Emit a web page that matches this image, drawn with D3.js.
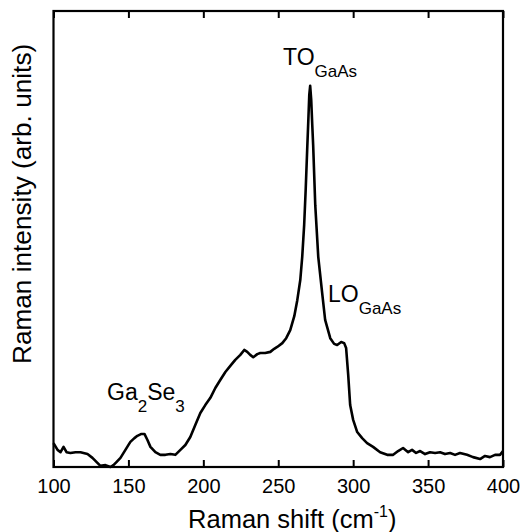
<!DOCTYPE html>
<html>
<head>
<meta charset="utf-8">
<script src="https://cdn.jsdelivr.net/npm/d3@7/dist/d3.min.js"></script>
<style>
html,body{margin:0;padding:0;background:#fff;}
svg{display:block;font-family:"Liberation Sans",Arial,sans-serif;}
</style>
</head>
<body>
<svg id="chart" width="532" height="532"></svg>
<script>
// Raman shift (cm^-1)
const shift = [100,102.7,104.7,106.7,108.7,111.3,114.7,118,122.7,126,129.3,131.3,134.7,138,140,142,144.7,148,151.3,154,156,158.7,160.7,162.7,164.7,168,171.3,174.7,178,181.3,184.7,188,191.3,194.7,198,201.3,204.7,208,211.3,214.7,218,221.3,224.7,227.3,229.3,231.3,233.3,236,238,241.3,244.7,247.3,249.3,252.7,255.3,258,260.7,262.7,264.7,266,267.3,268.3,269.3,270,270.7,271.3,272,272.7,273.3,274.7,276.7,279.3,281.3,284.7,287.3,289.3,292,294,295.3,296.7,298,300,302.7,306,309.3,313.3,318,322.7,326.7,330,333.3,336.7,339.3,342,344.7,348,351.3,354.7,358,361.3,364.7,368,371.3,376,380,384.7,388,391.3,394.7,398,400];
// Raman intensity (arb. units)
const intensity = [6.3,4.5,3.9,5.3,3.9,3.7,3.9,3.9,3.4,2.4,1.1,0.3,0.5,0,0.5,1.3,2.4,4.5,6.6,7.6,8.2,8.7,8.7,7.1,5.3,3.9,3.2,3.2,3.4,3.2,4.5,5.8,7.9,11.1,14.2,16.3,18.2,20.8,22.9,25,26.6,28.2,29.5,30.8,30.3,29.5,28.9,29.7,30,30,30.3,31.1,31.6,32.6,33.9,36,39.7,43.9,49.2,55.3,63.7,72.9,83.4,90.5,97.9,100.3,96.6,90,84.7,68.9,55.3,45.8,38.7,33.9,32.4,32.1,32.9,32.6,31.3,24.2,16.3,12.4,9.2,7.6,6.3,5.3,3.9,3.2,3.2,4.2,5,3.9,4.5,3.7,4.2,3.4,3.9,3.7,3.9,3.4,3.7,3.2,3.7,3.2,2.6,2.1,2.9,2.6,3.2,3.2,4.2];
const xTicks = [100,150,200,250,300,350,400];
const xDomain = [100,400];
const yDomain = [0,120];

const svg = d3.select("#chart");
const L = 53.5, R = 503, T = 11, B = 467;
const x = d3.scaleLinear().domain(xDomain).range([L, R]);
const y = d3.scaleLinear().domain(yDomain).range([B, T]);

// line
const data = shift.map((s,i)=>({s, v: intensity[i]}));
svg.append("path")
  .datum(data)
  .attr("fill","none")
  .attr("stroke","#000")
  .attr("stroke-width",2.6)
  .attr("stroke-linejoin","round")
  .attr("d", d3.line().x(d=>x(d.s)).y(d=>y(d.v)));

// bottom axis
const gb = svg.append("g").attr("transform",`translate(0,${B})`)
  .call(d3.axisBottom(x).tickValues(xTicks).tickSize(-7).tickPadding(12).tickFormat(d3.format("d")));
gb.select(".domain").remove();
gb.selectAll(".tick line").attr("stroke","#000").attr("stroke-width",2);
gb.selectAll(".tick text").attr("font-size",20).attr("fill","#000").attr("font-family","Liberation Sans, Arial, sans-serif");

// top axis
const gt = svg.append("g").attr("transform",`translate(0,${T})`)
  .call(d3.axisTop(x).tickValues(xTicks).tickSize(-7).tickFormat(""));
gt.select(".domain").remove();
gt.selectAll(".tick line").attr("stroke","#000").attr("stroke-width",2);

// frame
svg.append("rect").attr("x",L).attr("y",T).attr("width",R-L).attr("height",B-T)
  .attr("fill","none").attr("stroke","#000").attr("stroke-width",2.2);

// axis titles
const xt = svg.append("text").attr("x",(L+R)/2+14).attr("y",528).attr("text-anchor","middle")
  .attr("font-size",25.5).attr("fill","#000");
xt.append("tspan").text("Raman shift (cm");
xt.append("tspan").attr("font-size",16).attr("dy",-11).text("-1");
xt.append("tspan").attr("dy",11).text(")");

svg.append("text").attr("transform","translate(31,364) rotate(-90)")
  .attr("text-anchor","start").attr("font-size",26.2).attr("fill","#000")
  .text("Raman intensity (arb. units)");

// peak labels
function label(px, py, main, sub, main2, sub2){
  const t = svg.append("text").attr("x",px).attr("y",py).attr("font-size",23).attr("fill","#000");
  t.append("tspan").text(main);
  t.append("tspan").attr("font-size",17).attr("dy",12).text(sub);
  if(main2){
    t.append("tspan").attr("dy",-12).text(main2);
    t.append("tspan").attr("font-size",17).attr("dy",12).text(sub2);
  }
}
label(283, 65, "TO", "GaAs");
label(328, 302, "LO", "GaAs");
label(107, 400, "Ga", "2", "Se", "3");
</script>
</body>
</html>
